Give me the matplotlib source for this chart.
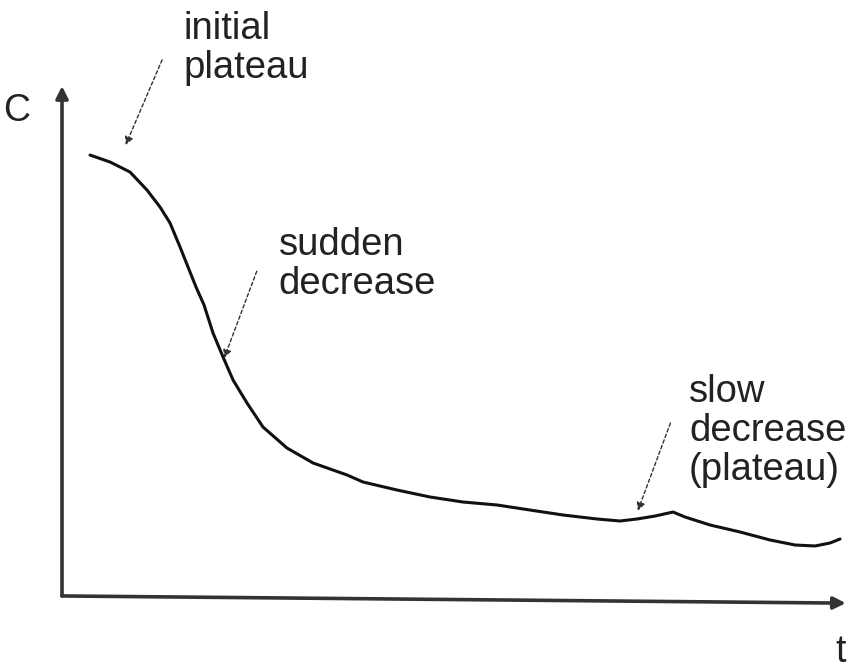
import matplotlib.pyplot as plt

plt.rcParams['font.family'] = ['Liberation Sans', 'DejaVu Sans']

# concentration curve (schematic), t and C in percent of axis length
t = [3.61, 6.19, 8.76, 10.95, 12.63, 13.92, 15.21, 16.24, 17.27, 18.30,
     19.46, 20.75, 22.04, 23.84, 25.90, 28.99, 32.35, 36.73, 38.79, 43.17,
     47.42, 51.68, 56.06, 60.31, 64.56, 68.94, 71.91, 74.10, 76.42, 78.74,
     80.28, 83.51, 87.37, 91.24, 94.46, 97.04, 98.97, 100.26]
c = [86.35, 84.99, 83.04, 79.53, 76.22, 73.10, 68.42, 64.52, 60.62, 57.12,
     51.66, 46.98, 42.50, 38.01, 33.33, 29.24, 26.32, 23.98, 22.61, 21.05,
     19.69, 18.71, 18.13, 17.15, 16.18, 15.40, 15.01, 15.40, 15.98, 16.76,
     15.79, 14.23, 12.87, 11.31, 10.33, 10.14, 10.72, 11.50]

labels = ["initial\nplateau", "sudden\ndecrease", "slow\ndecrease\n(plateau)"]
label_pos = [(15.6, 114.4), (27.9, 72.3), (80.8, 43.6)]
arrow_tail = [(12.9, 104.9), (25.1, 63.7), (78.4, 34.1)]
arrow_head = [(8.2, 88.3), (20.9, 46.8), (74.2, 17.0)]

fig = plt.figure(figsize=(8.53, 6.69), dpi=100)
ax = fig.add_axes([0, 0, 1, 1])
ax.set_xlim(-7.99, 101.93)
ax.set_ylim(-13.84, 116.57)
ax.axis("off")

ax.plot(t, c, color="#111111", lw=2.2, solid_capstyle="round",
        solid_joinstyle="round")

# axes with arrows
ax.annotate("", xy=(101.0, -1.0), xytext=(0, 0.4),
            arrowprops=dict(arrowstyle="-|>", color="#333333", lw=2.6,
                            mutation_scale=18, shrinkA=0, shrinkB=0))
ax.annotate("", xy=(0, 99.8), xytext=(0, 0.4),
            arrowprops=dict(arrowstyle="-|>", color="#333333", lw=2.6,
                            mutation_scale=18, shrinkA=0, shrinkB=0))
ax.text(-5.8, 94.9, "C", fontsize=27, color="#222222", ha="center", va="center")
ax.text(100.3, -10.5, "t", fontsize=27, color="#222222", ha="center", va="center")

for lab, pos, tail, head in zip(labels, label_pos, arrow_tail, arrow_head):
    ax.text(pos[0], pos[1], lab, fontsize=27.5, color="#222222",
            ha="left", va="top", linespacing=1.1)
    ax.annotate("", xy=head, xytext=tail,
                arrowprops=dict(arrowstyle="-|>", color="#333333", lw=1.0,
                                linestyle=(0, (2.5, 1.8)), mutation_scale=12,
                                shrinkA=0, shrinkB=0))

fig.savefig("out.png", dpi=100)
